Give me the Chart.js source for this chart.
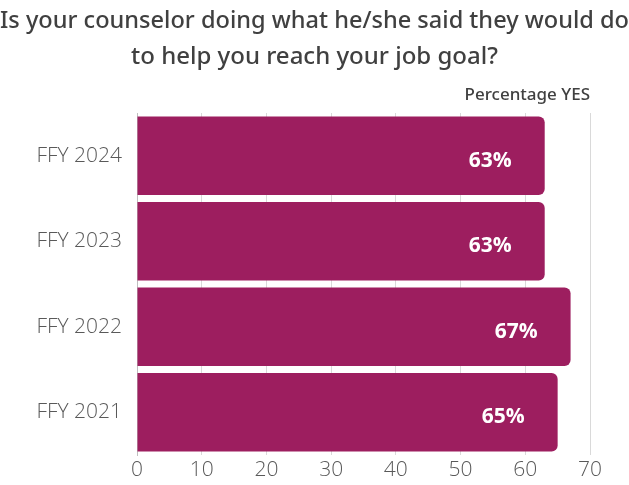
<!DOCTYPE html>
<html>
<head>
<meta charset="utf-8">
<script src="https://cdn.jsdelivr.net/npm/chart.js@4"></script>
<style>
  html, body { margin: 0; padding: 0; background: #fff; }
  #wrap { width: 629px; height: 485px; }
</style>
</head>
<body>
<div id="wrap"><canvas id="chart"></canvas></div>
<script>
// chart data
const years = ['FFY 2024', 'FFY 2023', 'FFY 2022', 'FFY 2021'];
const pctYes = [63, 63, 67, 65];
const xTicks = [0, 10, 20, 30, 40, 50, 60, 70];

const titleLines = ['Is your counselor doing what he/she said they would do', 'to help you reach your job goal?'];
const seriesLabel = 'Percentage YES';

// white value labels near the end of each bar
const valueLabels = {
    id: 'valueLabels',
    afterDatasetsDraw(chart) {
        const ctx = chart.ctx;
        const meta = chart.getDatasetMeta(0);
        ctx.save();
        ctx.fillStyle = '#ffffff';
        ctx.font = 'bold 21px "Open Sans"';
        ctx.textAlign = 'right';
        ctx.textBaseline = 'middle';
        meta.data.forEach((bar, i) => {
            ctx.fillText(pctYes[i] + '%', bar.x - 33, bar.y + 5);
        });
        ctx.restore();
    }
};

new Chart(document.getElementById('chart'), {
    type: 'bar',
    data: {
        labels: years,
        datasets: [{
            label: seriesLabel,
            data: pctYes,
            backgroundColor: '#9d1e5f',
            borderRadius: 6,
            borderSkipped: 'start',
            categoryPercentage: 1,
            barPercentage: 0.92
        }]
    },
    options: {
        indexAxis: 'y',
        responsive: true,
        maintainAspectRatio: false,
        animation: false,
        layout: { padding: 0 },
        plugins: {
            legend: { display: false },
            tooltip: { enabled: false },
            title: {
                display: true,
                text: titleLines,
                color: '#404040',
                font: { family: 'Noto Sans', size: 24, weight: '500', lineHeight: 1.5 },
                padding: { top: 3, bottom: 10 }
            }
        },
        scales: {
            x: {
                min: 0,
                max: 70,
                afterBuildTicks: (axis) => { axis.ticks = xTicks.map(v => ({ value: v })); },
                afterFit: (axis) => { axis.height = 30; },
                grid: { color: '#d9d9d9', drawTicks: false },
                border: { display: false },
                ticks: {
                    color: '#595959',
                    padding: 2,
                    font: { family: 'Open Sans', size: 21, weight: '300' }
                }
            },
            xTop: {
                type: 'linear',
                position: 'top',
                axis: 'x',
                min: 0,
                max: 70,
                afterFit: (axis) => { axis.height = 28; },
                grid: { display: false, drawTicks: false },
                border: { display: false },
                ticks: { display: false },
                title: {
                    display: true,
                    text: seriesLabel,
                    align: 'end',
                    color: '#404040',
                    font: { family: 'Noto Sans', size: 17, weight: '500' },
                    padding: { top: 0, bottom: 8 }
                }
            },
            y: {
                afterFit: (axis) => { axis.width = 137; },
                grid: { display: false, drawTicks: false },
                border: { display: true, color: '#bfbfbf' },
                ticks: {
                    color: '#595959',
                    padding: 15,
                    font: { family: 'Open Sans', size: 21, weight: '300' }
                }
            },
            yRight: {
                type: 'category',
                position: 'right',
                axis: 'y',
                afterFit: (axis) => { axis.width = 39; },
                grid: { display: false, drawTicks: false },
                border: { display: false },
                ticks: { display: false }
            }
        }
    },
    plugins: [valueLabels]
});
</script>
</body>
</html>
